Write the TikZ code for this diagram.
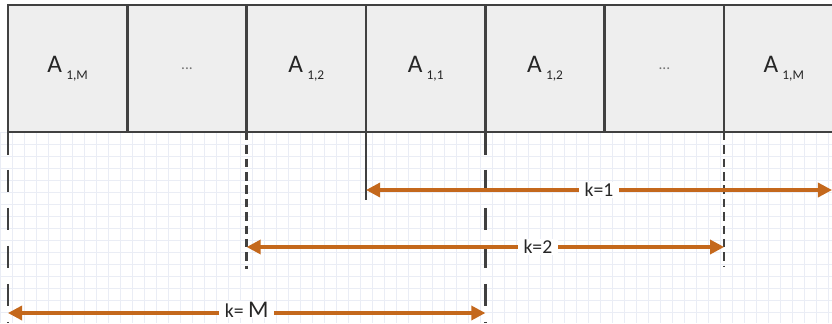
\documentclass[tikz,border=0pt]{standalone}
\usepackage{fontspec}
\setmainfont{Carlito}
\usepackage{xcolor}
\definecolor{cellgray}{RGB}{238,238,238}
\definecolor{edge}{RGB}{64,64,64}
\definecolor{rust}{RGB}{196,104,28}
\definecolor{gridline}{RGB}{234,237,245}
\usepackage{tikz}
\usetikzlibrary{arrows.meta,positioning}

\newcommand{\elem}[1]{A\,\raisebox{-0.6ex}{\fontsize{9.5}{9.5}\selectfont #1}}

\begin{document}
\begin{tikzpicture}[x=0.025cm, y=-0.025cm,
    cell/.style={draw=edge, line width=1.8pt, fill=cellgray, minimum width=2.983cm,
        minimum height=3.175cm, outer sep=0pt, inner sep=0pt,
        font=\fontsize{18}{18}\selectfont, text=black!85},
    dots/.style={cell, font=\fontsize{11}{11}\selectfont, text=black!55},
    longdash/.style={draw=edge, line width=1.9pt, dash pattern=on 16pt off 11pt},
    shortdash/.style={draw=edge, line width=1.9pt, dash pattern=on 6pt off 3.5pt},
    solidmark/.style={draw=edge, line width=1.9pt},
    span/.style={draw=rust, line width=2.3pt,
        {Triangle[length=10pt,width=10pt]}-{Triangle[length=10pt,width=10pt]}},
    klabel/.style={fill=white, inner xsep=4pt, inner ysep=0.5pt,
        font=\fontsize{14}{14}\selectfont, text=black!85}]

    % Frame and background grid
    \useasboundingbox (0,0) rectangle (832,323);
    \clip (0,0) rectangle (832,323);
    \fill[white] (0,0) rectangle (832,323);
    \draw[gridline, line width=0.5pt, step=0.3cm] (0,132) grid (832,323);

    % Row of elements
    \node[cell] (c1) at (67.65,68.5) {\elem{1,M}};
    \node[dots, right=0pt of c1] (c2) {...};
    \node[cell, right=0pt of c2] (c3) {\elem{1,2}};
    \node[cell, right=0pt of c3] (c4) {\elem{1,1}};
    \node[cell, right=0pt of c4] (c5) {\elem{1,2}};
    \node[dots, right=0pt of c5] (c6) {...};
    \node[cell, right=0pt of c6] (c7) {\elem{1,M}};

    % Drop lines
    \draw[longdash] (c1.south west) -- (c1.south west |- 0,323);
    \draw[shortdash] (c3.south west) -- (c3.south west |- 0,269);
    \draw[solidmark] (c4.south west) -- (c4.south west |- 0,200);
    \draw[longdash] (c5.south west) -- (c5.south west |- 0,323);
    \draw[shortdash] (c7.south west) -- (c7.south west |- 0,267);

    % Arrow ends
    \coordinate (k1l) at (c4.south west |- 0,190);
    \coordinate (k1r) at (832,190);
    \coordinate (k2l) at (c3.south west |- 0,247);
    \coordinate (k2r) at (c7.south west |- 0,247);
    \coordinate (kMl) at (c1.south west |- 0,313);
    \coordinate (kMr) at (c5.south west |- 0,313);

    % Spans
    \draw[span] (k1l) -- node[klabel, pos=0.5] {k=1} (k1r);
    \draw[span] (k2l) -- node[klabel, pos=0.61] {k=2} (k2r);
    \draw[span] (kMl) -- node[klabel, pos=0.5, yshift=2.5pt] {k= {\fontsize{17}{17}\selectfont M}} (kMr);
\end{tikzpicture}
\end{document}
